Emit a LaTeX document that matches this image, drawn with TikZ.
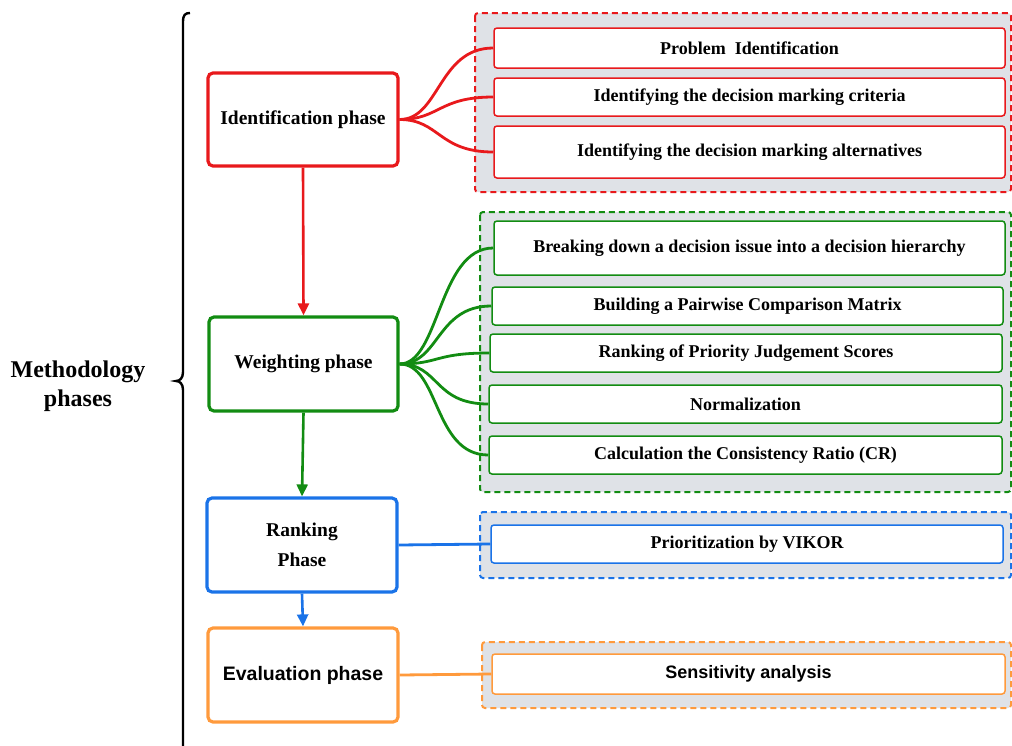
\documentclass[tikz,border=0pt]{standalone}
\usepackage{fontspec}
\setmainfont{Liberation Serif}
\setsansfont{Liberation Sans}
\usetikzlibrary{arrows.meta,calc}

\definecolor{cred}{HTML}{E8191C}
\definecolor{cgreen}{HTML}{128C12}
\definecolor{cblue}{HTML}{1A73E8}
\definecolor{corange}{HTML}{FF9A3C}
\definecolor{groupfill}{HTML}{DFE2E7}

\tikzset{
  phasebox/.style={draw=#1, line width=3.2pt, rounded corners=5pt, fill=white,
    font=\fontsize{19.5}{30}\selectfont\bfseries, align=center, inner sep=0pt},
  itembox/.style={draw=#1, line width=1.5pt, rounded corners=3pt, fill=white,
    font=\fontsize{18}{22}\selectfont\bfseries, align=center, inner sep=0pt},
  groupbox/.style={draw=#1, line width=2pt, dash pattern=on 6pt off 4pt,
    rounded corners=3pt, fill=groupfill},
  branch/.style={draw=#1, line width=2.8pt},
  flow/.style={draw=#1, line width=2.6pt, -{Triangle[length=12pt,width=11pt]}},
}

\begin{document}
\begin{tikzpicture}[x=1pt,y=-1pt]
\useasboundingbox (0,0) rectangle (1012,745);

% grey dashed groups
\path[groupbox=cred]    (475,13)  rectangle (1011,192);
\path[groupbox=cgreen]  (480,212) rectangle (1011,492);
\path[groupbox=cblue]   (480,512) rectangle (1011,578);
\path[groupbox=corange] (482,642) rectangle (1011,708);

% phase boxes
\node[phasebox=cred,    minimum width=190pt, minimum height=93pt] (idp) at (303,119.5) {Identification phase};
\node[phasebox=cgreen,  minimum width=189pt, minimum height=94pt] (wp)  at (303.5,364) {Weighting phase};
\node[phasebox=cblue,   minimum width=190pt, minimum height=94pt] (rp)  at (302,545) {Ranking\\Phase};
\node[phasebox=corange, minimum width=190pt, minimum height=94pt, font=\fontsize{19.5}{24}\selectfont\sffamily\bfseries] (ep) at (303,675) {Evaluation phase};

% identification items
\node[itembox=cred, minimum width=511pt, minimum height=40pt] (i1) at (749.5,48) {Problem\ \ Identification};
\node[itembox=cred, minimum width=511pt, minimum height=38pt] (i2) at (749.5,97) {Identifying the decision marking criteria};
\node[itembox=cred, minimum width=511pt, minimum height=52pt] (i3) at (749.5,152) {Identifying the decision marking alternatives};

% weighting items
\node[itembox=cgreen, minimum width=511pt, minimum height=54pt] (w1) at (749.5,248) {Breaking down a decision issue into a decision hierarchy};
\node[itembox=cgreen, minimum width=511pt, minimum height=38pt] (w2) at (747.5,306) {Building a Pairwise Comparison Matrix};
\node[itembox=cgreen, minimum width=512pt, minimum height=38pt] (w3) at (746,353) {Ranking of Priority Judgement Scores};
\node[itembox=cgreen, minimum width=513pt, minimum height=38pt] (w4) at (745.5,404) {Normalization};
\node[itembox=cgreen, minimum width=513pt, minimum height=38pt] (w5) at (745.5,455) {Calculation the Consistency Ratio (CR)};

% ranking and evaluation items
\node[itembox=cblue, minimum width=512pt, minimum height=38pt] (r1) at (747,544) {Prioritization by VIKOR};
\node[itembox=corange, minimum width=513pt, minimum height=40pt, font=\fontsize{18}{22}\selectfont\sffamily\bfseries] (e1) at (748.5,674) {Sensitivity analysis};

% branches from identification phase
\foreach \t in {i1,i2,i3}
  \draw[branch=cred] (idp.east) .. controls ($(idp.east)+(40,0)$) and ($(\t.west)+(-55,0)$) .. (\t.west);

% branches from weighting phase
\foreach \t in {w1,w2,w3,w4,w5}
  \draw[branch=cgreen] (wp.east) .. controls ($(wp.east)+(40,0)$) and ($(\t.west)+(-55,0)$) .. (\t.west);

\draw[branch=cblue]   (rp.east) -- (r1.west);
\draw[branch=corange] (ep.east) -- (e1.west);

% flow between phases
\draw[flow=cred]   (idp.south) -- (wp.north);
\draw[flow=cgreen] (wp.south)  -- (rp.north);
\draw[flow=cblue]  (rp.south)  -- (ep.north);

% brace and title
\coordinate (bt) at (190,13);
\coordinate (bm) at (176,381);
\coordinate (bb) at (183,746);
\draw[line width=2.4pt] (bt) .. controls (185,13) and (183,15) .. (183,22)
  -- (183,372) .. controls (183,378) and (180,381) .. (bm)
  .. controls (180,381) and (183,384) .. (183,390) -- (bb);
\node[font=\fontsize{24}{29}\selectfont\bfseries, align=center] (title) at (78,386) {Methodology\\phases};
\end{tikzpicture}
\end{document}
